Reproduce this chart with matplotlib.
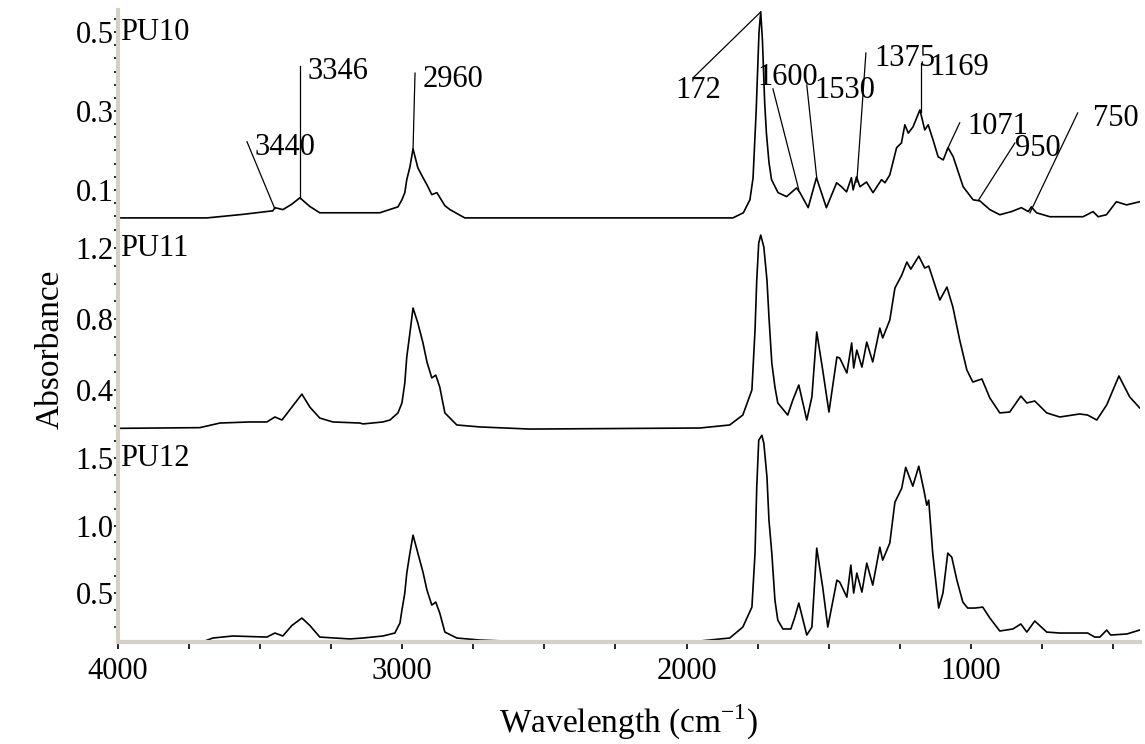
import matplotlib.pyplot as plt
from matplotlib.ticker import FixedLocator, MultipleLocator, FormatStrFormatter

plt.rcParams['font.family'] = ['Liberation Serif', 'DejaVu Serif']
plt.rcParams['mathtext.fontset'] = 'custom'
plt.rcParams['mathtext.rm'] = 'Liberation Serif'

# spectra (wavenumber cm-1, absorbance)
pu10_wn = [4000, 3687, 3560, 3455, 3448, 3420, 3390, 3360, 3325, 3290, 3079, 3015,
           3001, 2991, 2984, 2973, 2962, 2945, 2927, 2913, 2896, 2878, 2850, 2832, 2780, 1837,
           1800, 1777, 1766, 1755, 1745, 1739, 1733, 1725, 1719, 1710, 1701, 1678,
           1648, 1613, 1601, 1572, 1543, 1508, 1472, 1455, 1437, 1420, 1414, 1402,
           1390, 1367, 1344, 1314, 1302, 1285, 1261, 1244, 1232, 1220, 1203, 1179,
           1162, 1150, 1133, 1115, 1097, 1080, 1062, 1027, 992, 968, 933, 898, 857,
           822, 798, 787, 769, 722, 605, 570, 552, 523, 488, 452, 406]
pu10_abs = [0.029, 0.029, 0.038, 0.047, 0.055, 0.050, 0.063, 0.080, 0.058, 0.042, 0.042, 0.057,
            0.075, 0.093, 0.126, 0.158, 0.204, 0.156, 0.131, 0.113, 0.088, 0.093, 0.060, 0.050, 0.029, 0.029,
            0.042, 0.075, 0.130, 0.300, 0.500, 0.551, 0.480, 0.320, 0.244, 0.170, 0.126, 0.093,
            0.083, 0.105, 0.093, 0.055, 0.131, 0.055, 0.118, 0.108, 0.095, 0.131, 0.100, 0.133,
            0.108, 0.120, 0.093, 0.126, 0.118, 0.138, 0.207, 0.219, 0.265, 0.244, 0.260, 0.303,
            0.252, 0.265, 0.227, 0.184, 0.176, 0.207, 0.184, 0.108, 0.075, 0.072, 0.050, 0.037, 0.045,
            0.055, 0.045, 0.057, 0.042, 0.032, 0.032, 0.045, 0.032, 0.037, 0.070, 0.062, 0.070]

pu11_wn = [4000, 3712, 3641, 3536, 3476, 3448, 3423, 3388, 3353, 3325, 3290, 3244,
           3149, 3138, 3068, 3043, 3015, 3001, 2991, 2984, 2973, 2962, 2945, 2927, 2913, 2896,
           2882, 2868, 2850, 2808, 2727, 2551, 1953, 1848, 1802, 1770, 1759, 1753, 1746, 1739,
           1728, 1717, 1710, 1700, 1689, 1679, 1644, 1626, 1605, 1577, 1559, 1542, 1521, 1499, 1471,
           1461, 1436, 1419, 1412, 1401, 1383, 1366, 1345, 1320, 1310, 1285, 1267,
           1243, 1225, 1211, 1183, 1162, 1148, 1109, 1084, 1063, 1039, 1014, 993,
           961, 933, 898, 863, 824, 803, 775, 733, 687, 617, 589, 557, 522, 479, 441, 406]
pu11_abs = [0.184, 0.188, 0.214, 0.220, 0.220, 0.248, 0.231, 0.304, 0.377, 0.304, 0.242, 0.220,
            0.214, 0.209, 0.220, 0.231, 0.271, 0.327, 0.439, 0.586, 0.721, 0.862, 0.777, 0.665, 0.558, 0.468,
            0.484, 0.417, 0.271, 0.203, 0.192, 0.180, 0.186, 0.203, 0.259, 0.400, 0.738, 1.019, 1.228, 1.273,
            1.205, 1.019, 0.811, 0.552, 0.417, 0.327, 0.259, 0.344, 0.428, 0.231, 0.361, 0.727, 0.513, 0.276, 0.586,
            0.580, 0.496, 0.665, 0.524, 0.625, 0.529, 0.670, 0.558, 0.749, 0.693, 0.794, 0.974,
            1.047, 1.121, 1.081, 1.154, 1.087, 1.098, 0.907, 0.980, 0.867, 0.681, 0.513, 0.445,
            0.462, 0.355, 0.271, 0.276, 0.366, 0.327, 0.338, 0.271, 0.248, 0.265, 0.259, 0.231,
            0.316, 0.479, 0.361, 0.299]

pu12_wn = [4000, 3701, 3666, 3596, 3476, 3448, 3420, 3388, 3353, 3325, 3290, 3184,
           3138, 3068, 3026, 3008, 3001, 2991, 2984, 2973, 2962, 2945, 2927, 2913, 2896, 2882,
           2868, 2850, 2808, 2727, 2551, 1953, 1848, 1802, 1770, 1759, 1753, 1746, 1735, 1728, 1717,
           1710, 1700, 1689, 1679, 1661, 1633, 1619, 1605, 1577, 1559, 1542, 1521, 1503, 1471,
           1461, 1436, 1422, 1412, 1401, 1383, 1366, 1345, 1320, 1310, 1285, 1267,
           1243, 1229, 1204, 1183, 1165, 1155, 1148, 1134, 1113, 1098, 1081, 1067,
           1049, 1028, 1011, 986, 958, 933, 898, 852, 824, 803, 775, 733, 687, 589,
           564, 546, 522, 508, 451, 406]
pu12_abs = [0.140, 0.140, 0.167, 0.182, 0.174, 0.204, 0.182, 0.260, 0.315, 0.260, 0.174, 0.160,
            0.167, 0.182, 0.204, 0.278, 0.374, 0.500, 0.648, 0.796, 0.929, 0.796, 0.655, 0.522, 0.411, 0.433,
            0.352, 0.211, 0.167, 0.152, 0.137, 0.145, 0.167, 0.248, 0.396, 0.796, 1.284, 1.632, 1.669, 1.610, 1.358,
            1.040, 0.796, 0.448, 0.300, 0.234, 0.234, 0.322, 0.426, 0.189, 0.248, 0.833, 0.544, 0.248, 0.596,
            0.581, 0.470, 0.707, 0.500, 0.648, 0.507, 0.722, 0.559, 0.840, 0.744, 0.870, 1.173,
            1.277, 1.432, 1.292, 1.440, 1.262, 1.151, 1.188, 0.796, 0.389, 0.500, 0.796, 0.766,
            0.596, 0.433, 0.389, 0.389, 0.396, 0.315, 0.219, 0.234, 0.271, 0.211, 0.293, 0.211,
            0.204, 0.204, 0.174, 0.174, 0.226, 0.189, 0.197, 0.226]

names = ['PU10', 'PU11', 'PU12']
ylims = [(0.022, 0.556), (0.167, 1.354), (0.137, 1.698)]
major_ticks = [[0.1, 0.3, 0.5], [0.4, 0.8, 1.2], [0.5, 1.0, 1.5]]
minor_steps = [0.2 / 6, 0.1, 0.125]

# peak labels on PU10: text, line start (near text), line end (on peak), text position
peak_text = ['3440', '3346', '2960', '172', '1600', '1530', '1375', '1169', '1071', '950', '750']
line_x0 = [3546, 3360, 2955, 1974, 1696, 1577, 1369, 1176, 1039, 845, 624]
line_y0 = [0.222, 0.414, 0.396, 0.386, 0.356, 0.366, 0.447, 0.422, 0.270, 0.219, 0.295]
line_x1 = [3448, 3360, 2962, 1739, 1605, 1542, 1401, 1176, 1084, 972, 792]
line_y1 = [0.052, 0.080, 0.201, 0.551, 0.100, 0.131, 0.120, 0.298, 0.201, 0.075, 0.042]
text_x = [3518, 3332, 2927, 2038, 1749, 1549, 1338, 1144, 1011, 845, 571]
text_y = [0.207, 0.401, 0.379, 0.351, 0.386, 0.351, 0.434, 0.409, 0.260, 0.204, 0.282]

spectra = [(pu10_wn, pu10_abs), (pu11_wn, pu11_abs), (pu12_wn, pu12_abs)]
axis_grey = '#d4d0c8'

fig = plt.figure(figsize=(11.45, 7.44), dpi=100)
gs = fig.add_gridspec(3, 1, left=0.103, right=0.9956, top=0.9866, bottom=0.137, hspace=0)
axes = [fig.add_subplot(gs[i]) for i in range(3)]

for i, ax in enumerate(axes):
    wn, ab = spectra[i]
    ax.plot(wn, ab, color='black', lw=1.2)
    ax.set_xlim(4000, 405)
    ax.set_ylim(*ylims[i])
    for s in ['top', 'right', 'bottom']:
        ax.spines[s].set_visible(False)
    ax.spines['left'].set_color(axis_grey)
    ax.spines['left'].set_linewidth(3)
    ax.yaxis.set_major_locator(FixedLocator(major_ticks[i]))
    ax.yaxis.set_minor_locator(MultipleLocator(minor_steps[i]))
    ax.yaxis.set_major_formatter(FormatStrFormatter('%.1f'))
    ax.tick_params(axis='y', which='both', direction='out', length=3, width=1.2,
                   color='black', pad=0, labelsize=22)
    ax.text(3993, major_ticks[i][-1], names[i], fontsize=22, ha='left', va='center')
    if i < 2:
        ax.tick_params(axis='x', which='both', bottom=False, labelbottom=False)

ax = axes[0]
for k in range(len(peak_text)):
    ax.plot([line_x0[k], line_x1[k]], [line_y0[k], line_y1[k]], color='black', lw=0.9,
            clip_on=False)
    ax.text(text_x[k], text_y[k], peak_text[k], fontsize=22, ha='left', va='center',
            clip_on=False)

ax = axes[2]
ax.spines['bottom'].set_visible(True)
ax.spines['bottom'].set_color(axis_grey)
ax.spines['bottom'].set_linewidth(3)
ax.xaxis.set_major_locator(MultipleLocator(1000))
ax.xaxis.set_minor_locator(MultipleLocator(250))
ax.tick_params(axis='x', which='both', direction='out', length=5, width=1.2,
               color='black', pad=6, labelsize=22)
ax.set_xlabel('Wavelength (cm$^{-1}$)', fontsize=24, labelpad=12)

fig.text(0.044, 0.53, 'Absorbance', rotation=90, fontsize=24, ha='center', va='center')

fig.savefig('out.png', dpi=100)
